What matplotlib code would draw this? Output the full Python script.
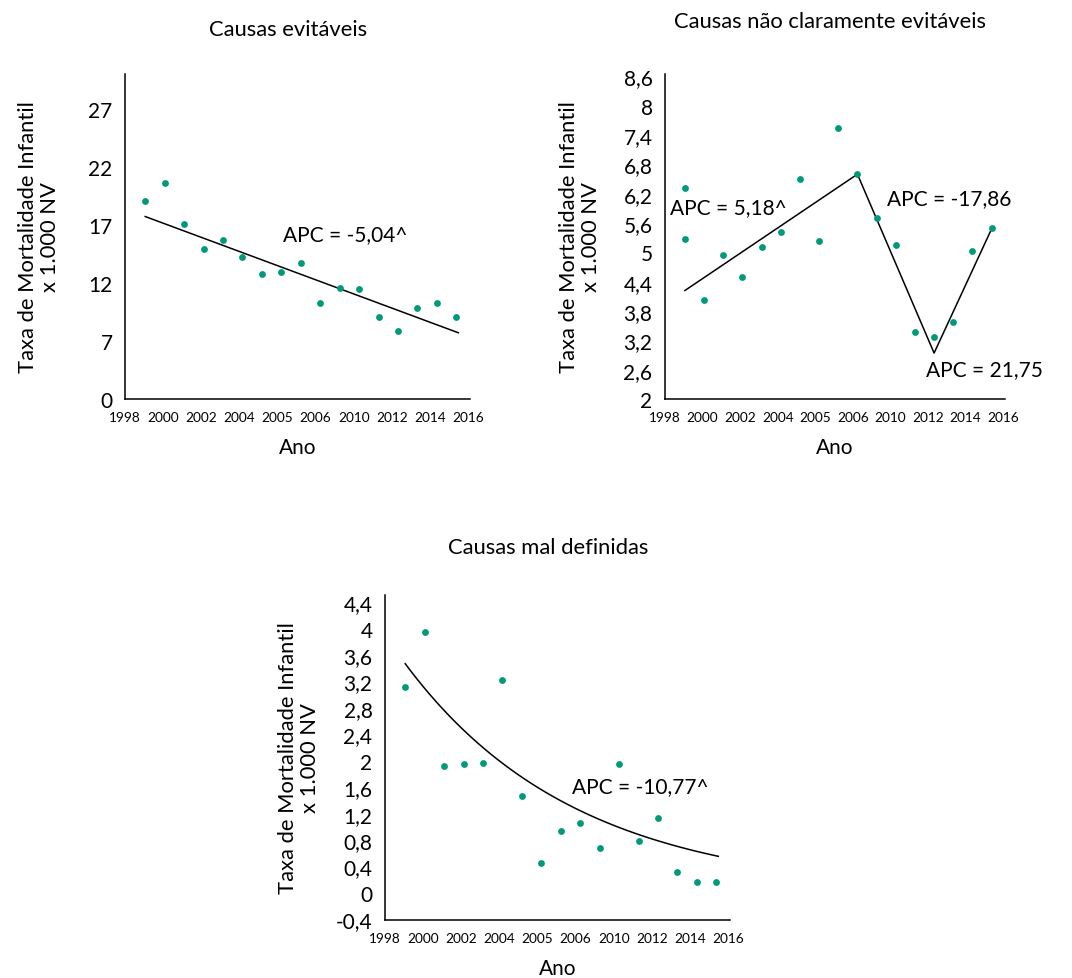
import matplotlib
matplotlib.use("Agg")
from matplotlib import pyplot as plt
import numpy as np

plt.rcParams['font.family'] = ['Lato', 'DejaVu Sans']

# rotulos do eixo x (posicoes igualmente espacadas, como no original)
rotulos_x = ['1998', '2000', '2002', '2004', '2005', '2006', '2010', '2012', '2014', '2016']
anos = [1999, 2000, 2001, 2002, 2003, 2004, 2005, 2006, 2007, 2008,
        2009, 2010, 2011, 2012, 2013, 2014, 2015]

# Causas evitaveis
evit_y = [19.1, 20.6, 17.1, 14.9, 15.7, 14.2, 12.75, 12.9, 13.7, 10.3,
          11.6, 11.45, 9.1, 7.9, 9.8, 10.3, 9.05]
evit_ticks = [2, 7, 12, 17, 22, 27]
evit_rotulos = ['0', '7', '12', '17', '22', '27']
evit_ini, evit_apc = 17.72, -5.04

# Causas nao claramente evitaveis (1999 aparece duas vezes)
nce_x = [1999] + anos
nce_y = [6.31, 5.28, 4.02, 4.94, 4.49, 5.12, 5.42, 6.51, 5.23, 7.54, 6.61,
         5.70, 5.16, 3.38, 3.27, 3.57, 5.03, 5.49]
nce_jp_x = [1999, 2008, 2012, 2015]
nce_jp_y = [4.22, 6.60, 2.94, 5.48]
nce_ticks = [2, 2.6, 3.2, 3.8, 4.4, 5, 5.6, 6.2, 6.8, 7.4, 8, 8.6]

# Causas mal definidas
mal_y = [3.12, 3.95, 1.92, 1.95, 1.97, 3.22, 1.47, 0.46, 0.93, 1.06,
         0.68, 1.95, 0.79, 1.14, 0.32, 0.17, 0.17]
mal_ticks = [-0.4, 0, 0.4, 0.8, 1.2, 1.6, 2, 2.4, 2.8, 3.2, 3.6, 4, 4.4]
mal_ini, mal_apc = 3.47, -10.77

verde = '#009a7a'
W, H = 1072, 979
fig = plt.figure(figsize=(W / 100, H / 100), dpi=100)


def eixo(rect):
    ax = fig.add_axes([rect[0] / W, 1 - rect[3] / H,
                       (rect[2] - rect[0]) / W, (rect[3] - rect[1]) / H])
    for s in ['top', 'right']:
        ax.spines[s].set_visible(False)
    for s in ['left', 'bottom']:
        ax.spines[s].set_linewidth(1.1)
    ax.set_xlim(1997.96, 2015.7)
    ax.set_xticks(np.linspace(1997.96, 2015.6, 10))
    ax.set_xticklabels(rotulos_x, fontsize=9.8)
    ax.tick_params(axis='x', length=0, pad=9)
    ax.tick_params(axis='y', length=0, pad=9, labelsize=15)
    ax.set_xlabel('Ano', fontsize=15, labelpad=10)
    ax.set_ylabel('Taxa de Mortalidade Infantil\nx 1.000 NV', fontsize=15.8,
                  linespacing=1.15)
    # borda direita do rotulo
    ax.yaxis.set_label_coords(-0.188, 0.5)
    return ax


def fmt(v):
    return ('%g' % v).replace('.', ',')


# painel 1
ax1 = eixo((125, 75, 470, 400))
ax1.scatter(anos, evit_y, s=24, color=verde, zorder=3, linewidths=0)
xs = np.array([1999, 2015.1])
ax1.plot(xs, evit_ini * (1 + evit_apc / 100) ** (xs - 1999), color='black', lw=1.1)
ax1.set_ylim(2, 30)
ax1.set_yticks(evit_ticks)
ax1.set_yticklabels(evit_rotulos)
ax1.text(2006.08, 16.2, 'APC = -5,04^', fontsize=15, va='center')
fig.text(288 / W, 1 - 30 / H, 'Causas evitáveis', fontsize=15.8, ha='center', va='center')

# painel 2
ax2 = eixo((665, 75, 1005, 400))
ax2.scatter(nce_x, nce_y, s=24, color=verde, zorder=3, linewidths=0)
ax2.plot(nce_jp_x, nce_jp_y, color='black', lw=1.1)
ax2.set_ylim(2, 8.65)
ax2.set_yticks(nce_ticks)
ax2.set_yticklabels([fmt(v) for v in nce_ticks])
ax2.text(1998.22, 5.92, 'APC = 5,18^', fontsize=15, va='center')
ax2.text(2009.53, 6.12, 'APC = -17,86', fontsize=15, va='center')
ax2.text(2011.57, 2.61, 'APC = 21,75', fontsize=15, va='center')
fig.text(830 / W, 1 - 22 / H, 'Causas não claramente evitáveis', fontsize=15.8,
         ha='center', va='center')

# painel 3
ax3 = eixo((385, 596, 730, 921))
ax3.scatter(anos, mal_y, s=24, color=verde, zorder=3, linewidths=0)
xc = np.linspace(1999, 2015.1, 100)
ax3.plot(xc, mal_ini * (1 + mal_apc / 100) ** (xc - 1999), color='black', lw=1.1)
ax3.set_ylim(-0.41, 4.51)
ax3.set_yticks(mal_ticks)
ax3.set_yticklabels([fmt(v) for v in mal_ticks])
ax3.text(2007.6, 1.61, 'APC = -10,77^', fontsize=15, va='center')
fig.text(548 / W, 1 - 548 / H, 'Causas mal definidas', fontsize=15.8,
         ha='center', va='center')

fig.savefig('out.png', dpi=100)
